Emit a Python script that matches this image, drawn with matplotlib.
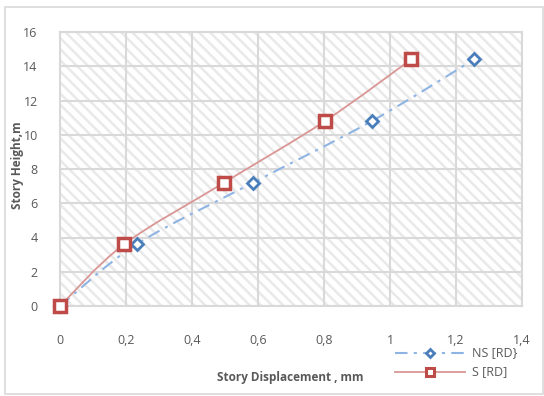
import matplotlib
matplotlib.use("Agg")
import matplotlib.pyplot as plt
import numpy as np
from matplotlib.path import Path
from matplotlib.patches import PathPatch, Rectangle
from matplotlib.lines import Line2D

ns_x = [0, 0.232, 0.585, 0.945, 1.255]
ns_y = [0, 3.6, 7.2, 10.8, 14.4]
s_x = [0, 0.194, 0.497, 0.803, 1.064]
s_y = [0, 3.6, 7.2, 10.8, 14.4]
x_ticks = [0, 0.2, 0.4, 0.6, 0.8, 1.0, 1.2, 1.4]
x_labels = ["0", "0,2", "0,4", "0,6", "0,8", "1", "1,2", "1,4"]
y_ticks = [0, 2, 4, 6, 8, 10, 12, 14, 16]
series_names = ['NS [RD}', 'S [RD]']

plt.rcParams['font.family'] = ['Open Sans', 'DejaVu Sans']
plt.rcParams['hatch.color'] = '#e9e9e9'
plt.rcParams['hatch.linewidth'] = 1.8

W, H = 544, 396
fig = plt.figure(figsize=(W / 100, H / 100), dpi=100)
fig.patches.append(Rectangle((5/W, 2/H), 538/W, 387/H, transform=fig.transFigure,
                             fill=False, edgecolor='#d9d9d9', linewidth=1.2))
ax = fig.add_axes([60/W, 1 - 306/H, 462/W, 274/H])
ax.set_xlim(0, 1.4)
ax.set_ylim(0, 16)
ax.patch.set_hatch('\\\\\\')
ax.patch.set_edgecolor('#e9e9e9')
ax.set_axisbelow(True)
ax.grid(True, color='#d9d9d9', linewidth=1.5)
for sp in ax.spines.values():
    sp.set_color('#d9d9d9')
    sp.set_linewidth(1.5)

def smooth_path(xs, ys):
    p = np.column_stack([xs, ys]).astype(float)
    n = len(p)
    verts = [p[0]]
    codes = [Path.MOVETO]
    for i in range(n - 1):
        p0 = p[i - 1] if i > 0 else p[i]
        p3 = p[i + 2] if i + 2 < n else p[i + 1]
        c1 = p[i] + (p[i + 1] - p0) / 6
        c2 = p[i + 1] - (p3 - p[i]) / 6
        verts += [c1, c2, p[i + 1]]
        codes += [Path.CURVE4] * 3
    return Path(verts, codes)

ns_line_c = '#8eb4e3'
s_line_c = '#d99694'
ns_mk_c = '#4a7ebb'
s_mk_c = '#be4b48'
dashdot = (0, (6, 3, 1.5, 3))

ax.add_patch(PathPatch(smooth_path(ns_x, ns_y), fill=False, edgecolor=ns_line_c,
                       linewidth=1.5, linestyle=dashdot, zorder=3))
ax.add_patch(PathPatch(smooth_path(s_x, s_y), fill=False, edgecolor=s_line_c,
                       linewidth=1.3, zorder=3))
ax.plot(ns_x, ns_y, linestyle='none', marker='D', markersize=6, markerfacecolor='white',
        markeredgecolor=ns_mk_c, markeredgewidth=2, zorder=4, clip_on=False)
ax.plot(s_x, s_y, linestyle='none', marker='s', markersize=9, markerfacecolor='white',
        markeredgecolor=s_mk_c, markeredgewidth=2.5, zorder=5, clip_on=False)

ax.set_xticks(x_ticks)
ax.set_xticklabels(x_labels)
ax.set_yticks(y_ticks)
ax.tick_params(axis='both', length=0, labelsize=9, labelcolor='#595959')
ax.tick_params(axis='y', pad=16)
ax.tick_params(axis='x', pad=20)

fig.text(290/W, 1 - 378/H, 'Story Displacement , mm', ha='center', va='center',
         fontsize=8.5, fontweight='bold', color='#595959')
fig.text(18/W, 1 - 165/H, 'Story Height,m', ha='center', va='center', rotation=90,
         fontsize=8.5, fontweight='bold', color='#595959')

# manual legend
leg_rows = [353, 372]
styles = [
    dict(color=ns_line_c, linewidth=1.5, linestyle=dashdot),
    dict(color=s_line_c, linewidth=1.3, linestyle='-'),
]
mk_styles = [
    dict(marker='D', markersize=4.5, markerfacecolor='white', markeredgecolor=ns_mk_c, markeredgewidth=2),
    dict(marker='s', markersize=6, markerfacecolor='white', markeredgecolor=s_mk_c, markeredgewidth=2.2),
]
for yy, name, st, mk in zip(leg_rows, series_names, styles, mk_styles):
    fy = 1 - yy / H
    fig.add_artist(Line2D([395/W, 465/W], [fy, fy], transform=fig.transFigure, **st))
    fig.add_artist(Line2D([430/W], [fy], transform=fig.transFigure, linestyle='none', **mk))
    fig.text(472/W, fy, name, ha='left', va='center', fontsize=9, color='#595959')

fig.savefig('out.png', dpi=100)
